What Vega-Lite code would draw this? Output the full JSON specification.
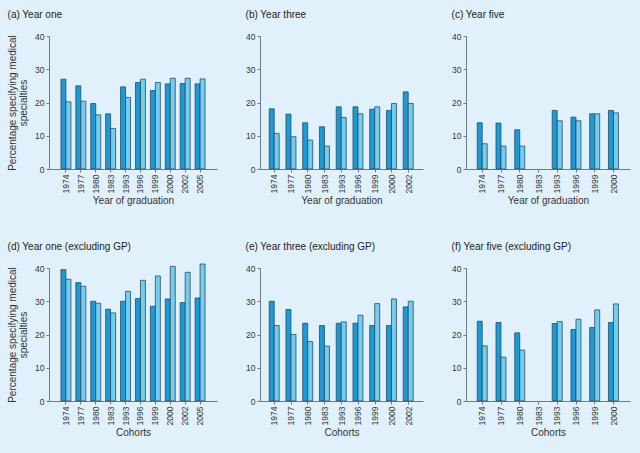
{
  "$schema": "https://vega.github.io/schema/vega-lite/v6.json",
  "background": "#e0f1fb",
  "padding": {"left": 7, "top": 10, "right": 11, "bottom": 15},
  "datasets": {
    "d": [
      {"panel": "a", "year": "1974", "series": "S1", "value": 27.0},
      {"panel": "a", "year": "1974", "series": "S2", "value": 20.2},
      {"panel": "a", "year": "1977", "series": "S1", "value": 25.0},
      {"panel": "a", "year": "1977", "series": "S2", "value": 20.4},
      {"panel": "a", "year": "1980", "series": "S1", "value": 19.7},
      {"panel": "a", "year": "1980", "series": "S2", "value": 16.3},
      {"panel": "a", "year": "1983", "series": "S1", "value": 16.6},
      {"panel": "a", "year": "1983", "series": "S2", "value": 12.2},
      {"panel": "a", "year": "1993", "series": "S1", "value": 24.7},
      {"panel": "a", "year": "1993", "series": "S2", "value": 21.5},
      {"panel": "a", "year": "1996", "series": "S1", "value": 26.0},
      {"panel": "a", "year": "1996", "series": "S2", "value": 27.0},
      {"panel": "a", "year": "1999", "series": "S1", "value": 23.6},
      {"panel": "a", "year": "1999", "series": "S2", "value": 26.0},
      {"panel": "a", "year": "2000", "series": "S1", "value": 25.6},
      {"panel": "a", "year": "2000", "series": "S2", "value": 27.3},
      {"panel": "a", "year": "2002", "series": "S1", "value": 25.7},
      {"panel": "a", "year": "2002", "series": "S2", "value": 27.3},
      {"panel": "a", "year": "2005", "series": "S1", "value": 25.6},
      {"panel": "a", "year": "2005", "series": "S2", "value": 27.1},

      {"panel": "b", "year": "1974", "series": "S1", "value": 18.1},
      {"panel": "b", "year": "1974", "series": "S2", "value": 10.7},
      {"panel": "b", "year": "1977", "series": "S1", "value": 16.5},
      {"panel": "b", "year": "1977", "series": "S2", "value": 9.7},
      {"panel": "b", "year": "1980", "series": "S1", "value": 13.9},
      {"panel": "b", "year": "1980", "series": "S2", "value": 8.7},
      {"panel": "b", "year": "1983", "series": "S1", "value": 12.7},
      {"panel": "b", "year": "1983", "series": "S2", "value": 6.9},
      {"panel": "b", "year": "1993", "series": "S1", "value": 18.7},
      {"panel": "b", "year": "1993", "series": "S2", "value": 15.5},
      {"panel": "b", "year": "1996", "series": "S1", "value": 18.7},
      {"panel": "b", "year": "1996", "series": "S2", "value": 16.6},
      {"panel": "b", "year": "1999", "series": "S1", "value": 18.0},
      {"panel": "b", "year": "1999", "series": "S2", "value": 18.7},
      {"panel": "b", "year": "2000", "series": "S1", "value": 17.6},
      {"panel": "b", "year": "2000", "series": "S2", "value": 19.7},
      {"panel": "b", "year": "2002", "series": "S1", "value": 23.2},
      {"panel": "b", "year": "2002", "series": "S2", "value": 19.7},

      {"panel": "c", "year": "1974", "series": "S1", "value": 13.9},
      {"panel": "c", "year": "1974", "series": "S2", "value": 7.6},
      {"panel": "c", "year": "1977", "series": "S1", "value": 13.8},
      {"panel": "c", "year": "1977", "series": "S2", "value": 6.9},
      {"panel": "c", "year": "1980", "series": "S1", "value": 11.8},
      {"panel": "c", "year": "1980", "series": "S2", "value": 6.9},
      {"panel": "c", "year": "1993", "series": "S1", "value": 17.6},
      {"panel": "c", "year": "1993", "series": "S2", "value": 14.5},
      {"panel": "c", "year": "1996", "series": "S1", "value": 15.6},
      {"panel": "c", "year": "1996", "series": "S2", "value": 14.5},
      {"panel": "c", "year": "1999", "series": "S1", "value": 16.6},
      {"panel": "c", "year": "1999", "series": "S2", "value": 16.6},
      {"panel": "c", "year": "2000", "series": "S1", "value": 17.6},
      {"panel": "c", "year": "2000", "series": "S2", "value": 16.9},

      {"panel": "d", "year": "1974", "series": "S1", "value": 39.5},
      {"panel": "d", "year": "1974", "series": "S2", "value": 36.6},
      {"panel": "d", "year": "1977", "series": "S1", "value": 35.6},
      {"panel": "d", "year": "1977", "series": "S2", "value": 34.5},
      {"panel": "d", "year": "1980", "series": "S1", "value": 30.0},
      {"panel": "d", "year": "1980", "series": "S2", "value": 29.4},
      {"panel": "d", "year": "1983", "series": "S1", "value": 27.6},
      {"panel": "d", "year": "1983", "series": "S2", "value": 26.5},
      {"panel": "d", "year": "1993", "series": "S1", "value": 30.0},
      {"panel": "d", "year": "1993", "series": "S2", "value": 33.0},
      {"panel": "d", "year": "1996", "series": "S1", "value": 30.8},
      {"panel": "d", "year": "1996", "series": "S2", "value": 36.3},
      {"panel": "d", "year": "1999", "series": "S1", "value": 28.5},
      {"panel": "d", "year": "1999", "series": "S2", "value": 37.6},
      {"panel": "d", "year": "2000", "series": "S1", "value": 30.7},
      {"panel": "d", "year": "2000", "series": "S2", "value": 40.5},
      {"panel": "d", "year": "2002", "series": "S1", "value": 29.6},
      {"panel": "d", "year": "2002", "series": "S2", "value": 38.7},
      {"panel": "d", "year": "2005", "series": "S1", "value": 31.0},
      {"panel": "d", "year": "2005", "series": "S2", "value": 41.2},

      {"panel": "e", "year": "1974", "series": "S1", "value": 30.0},
      {"panel": "e", "year": "1974", "series": "S2", "value": 22.7},
      {"panel": "e", "year": "1977", "series": "S1", "value": 27.5},
      {"panel": "e", "year": "1977", "series": "S2", "value": 20.0},
      {"panel": "e", "year": "1980", "series": "S1", "value": 23.4},
      {"panel": "e", "year": "1980", "series": "S2", "value": 17.9},
      {"panel": "e", "year": "1983", "series": "S1", "value": 22.7},
      {"panel": "e", "year": "1983", "series": "S2", "value": 16.5},
      {"panel": "e", "year": "1993", "series": "S1", "value": 23.4},
      {"panel": "e", "year": "1993", "series": "S2", "value": 23.8},
      {"panel": "e", "year": "1996", "series": "S1", "value": 23.4},
      {"panel": "e", "year": "1996", "series": "S2", "value": 25.8},
      {"panel": "e", "year": "1999", "series": "S1", "value": 22.7},
      {"panel": "e", "year": "1999", "series": "S2", "value": 29.3},
      {"panel": "e", "year": "2000", "series": "S1", "value": 22.7},
      {"panel": "e", "year": "2000", "series": "S2", "value": 30.7},
      {"panel": "e", "year": "2002", "series": "S1", "value": 28.3},
      {"panel": "e", "year": "2002", "series": "S2", "value": 30.0},

      {"panel": "f", "year": "1974", "series": "S1", "value": 24.0},
      {"panel": "f", "year": "1974", "series": "S2", "value": 16.6},
      {"panel": "f", "year": "1977", "series": "S1", "value": 23.6},
      {"panel": "f", "year": "1977", "series": "S2", "value": 13.2},
      {"panel": "f", "year": "1980", "series": "S1", "value": 20.5},
      {"panel": "f", "year": "1980", "series": "S2", "value": 15.3},
      {"panel": "f", "year": "1993", "series": "S1", "value": 23.3},
      {"panel": "f", "year": "1993", "series": "S2", "value": 23.9},
      {"panel": "f", "year": "1996", "series": "S1", "value": 21.5},
      {"panel": "f", "year": "1996", "series": "S2", "value": 24.6},
      {"panel": "f", "year": "1999", "series": "S1", "value": 22.1},
      {"panel": "f", "year": "1999", "series": "S2", "value": 27.4},
      {"panel": "f", "year": "2000", "series": "S1", "value": 23.6},
      {"panel": "f", "year": "2000", "series": "S2", "value": 29.2}
    ]
  },
  "config": {
    "view": {"stroke": null},
    "font": "Liberation Sans",
    "title": {"anchor": "start", "frame": "bounds", "fontSize": 10, "fontWeight": "normal", "color": "#222222", "offset": 12},
    "axis": {
      "domainColor": "#6f7b82",
      "tickColor": "#6f7b82",
      "labelColor": "#333333",
      "titleColor": "#333333",
      "labelFontSize": 8.5,
      "titleFontSize": 10,
      "titleFontWeight": "normal",
      "grid": false,
      "tickSize": 3,
      "labelPadding": 2
    },
    "bar": {"stroke": "#2f4b5c", "strokeWidth": 0.8}
  },
  "spacing": 35,
  "vconcat": [
    {
      "spacing": 28,
      "hconcat": [
        {
          "data": {"name": "d"},
          "transform": [{"filter": "datum.panel === 'a'"}],
          "title": "(a) Year one",
          "width": 168, "height": 133,
          "mark": "bar",
          "encoding": {
            "x": {"field": "year", "type": "nominal", "sort": null,
                  "scale": {"domain": ["1974","1977","1980","1983","1993","1996","1999","2000","2002","2005"], "paddingInner": 0.33, "paddingOuter": 0.8},
                  "axis": {"title": "Year of graduation", "labelAngle": 270, "titlePadding": 3}},
            "xOffset": {"field": "series", "type": "nominal", "scale": {"paddingInner": 0}},
            "y": {"field": "value", "type": "quantitative", "scale": {"domain": [0, 40], "nice": false},
                  "axis": {"values": [0, 10, 20, 30, 40], "title": ["Percentage specifying medical", "specialties"], "titlePadding": 6, "titleLineHeight": 11}},
            "color": {"field": "series", "type": "nominal", "scale": {"domain": ["S1","S2"], "range": ["#1a9ad6", "#72cdf0"]}, "legend": null}
          }
        },
        {
          "data": {"name": "d"},
          "transform": [{"filter": "datum.panel === 'b'"}],
          "title": "(b) Year three",
          "width": 163, "height": 133,
          "mark": "bar",
          "encoding": {
            "x": {"field": "year", "type": "nominal", "sort": null,
                  "scale": {"domain": ["1974","1977","1980","1983","1993","1996","1999","2000","2002"], "paddingInner": 0.37, "paddingOuter": 0.55},
                  "axis": {"title": "Year of graduation", "labelAngle": 270, "titlePadding": 3}},
            "xOffset": {"field": "series", "type": "nominal", "scale": {"paddingInner": 0}},
            "y": {"field": "value", "type": "quantitative", "scale": {"domain": [0, 40], "nice": false},
                  "axis": {"values": [0, 10, 20, 30, 40], "title": null}},
            "color": {"field": "series", "type": "nominal", "scale": {"domain": ["S1","S2"], "range": ["#1a9ad6", "#72cdf0"]}, "legend": null}
          }
        },
        {
          "data": {"name": "d"},
          "transform": [{"filter": "datum.panel === 'c'"}],
          "title": "(c) Year five",
          "width": 164, "height": 133,
          "mark": "bar",
          "encoding": {
            "x": {"field": "year", "type": "nominal", "sort": null,
                  "scale": {"domain": ["1974","1977","1980","1983","1993","1996","1999","2000"], "paddingInner": 0.45, "paddingOuter": 0.6},
                  "axis": {"title": "Year of graduation", "labelAngle": 270, "titlePadding": 3}},
            "xOffset": {"field": "series", "type": "nominal", "scale": {"paddingInner": 0}},
            "y": {"field": "value", "type": "quantitative", "scale": {"domain": [0, 40], "nice": false},
                  "axis": {"values": [0, 10, 20, 30, 40], "title": null}},
            "color": {"field": "series", "type": "nominal", "scale": {"domain": ["S1","S2"], "range": ["#1a9ad6", "#72cdf0"]}, "legend": null}
          }
        }
      ]
    },
    {
      "spacing": 28,
      "hconcat": [
        {
          "data": {"name": "d"},
          "transform": [{"filter": "datum.panel === 'd'"}],
          "title": "(d) Year one (excluding GP)",
          "width": 168, "height": 133,
          "mark": "bar",
          "encoding": {
            "x": {"field": "year", "type": "nominal", "sort": null,
                  "scale": {"domain": ["1974","1977","1980","1983","1993","1996","1999","2000","2002","2005"], "paddingInner": 0.33, "paddingOuter": 0.8},
                  "axis": {"title": "Cohorts", "labelAngle": 270, "titlePadding": 3}},
            "xOffset": {"field": "series", "type": "nominal", "scale": {"paddingInner": 0}},
            "y": {"field": "value", "type": "quantitative", "scale": {"domain": [0, 40], "nice": false},
                  "axis": {"values": [0, 10, 20, 30, 40], "title": ["Percentage specifying medical", "specialties"], "titlePadding": 6, "titleLineHeight": 11}},
            "color": {"field": "series", "type": "nominal", "scale": {"domain": ["S1","S2"], "range": ["#1a9ad6", "#72cdf0"]}, "legend": null}
          }
        },
        {
          "data": {"name": "d"},
          "transform": [{"filter": "datum.panel === 'e'"}],
          "title": "(e) Year three (excluding GP)",
          "width": 163, "height": 133,
          "mark": "bar",
          "encoding": {
            "x": {"field": "year", "type": "nominal", "sort": null,
                  "scale": {"domain": ["1974","1977","1980","1983","1993","1996","1999","2000","2002"], "paddingInner": 0.37, "paddingOuter": 0.55},
                  "axis": {"title": "Cohorts", "labelAngle": 270, "titlePadding": 3}},
            "xOffset": {"field": "series", "type": "nominal", "scale": {"paddingInner": 0}},
            "y": {"field": "value", "type": "quantitative", "scale": {"domain": [0, 40], "nice": false},
                  "axis": {"values": [0, 10, 20, 30, 40], "title": null}},
            "color": {"field": "series", "type": "nominal", "scale": {"domain": ["S1","S2"], "range": ["#1a9ad6", "#72cdf0"]}, "legend": null}
          }
        },
        {
          "data": {"name": "d"},
          "transform": [{"filter": "datum.panel === 'f'"}],
          "title": "(f) Year five (excluding GP)",
          "width": 164, "height": 133,
          "mark": "bar",
          "encoding": {
            "x": {"field": "year", "type": "nominal", "sort": null,
                  "scale": {"domain": ["1974","1977","1980","1983","1993","1996","1999","2000"], "paddingInner": 0.45, "paddingOuter": 0.6},
                  "axis": {"title": "Cohorts", "labelAngle": 270, "titlePadding": 3}},
            "xOffset": {"field": "series", "type": "nominal", "scale": {"paddingInner": 0}},
            "y": {"field": "value", "type": "quantitative", "scale": {"domain": [0, 40], "nice": false},
                  "axis": {"values": [0, 10, 20, 30, 40], "title": null}},
            "color": {"field": "series", "type": "nominal", "scale": {"domain": ["S1","S2"], "range": ["#1a9ad6", "#72cdf0"]}, "legend": null}
          }
        }
      ]
    }
  ]
}
